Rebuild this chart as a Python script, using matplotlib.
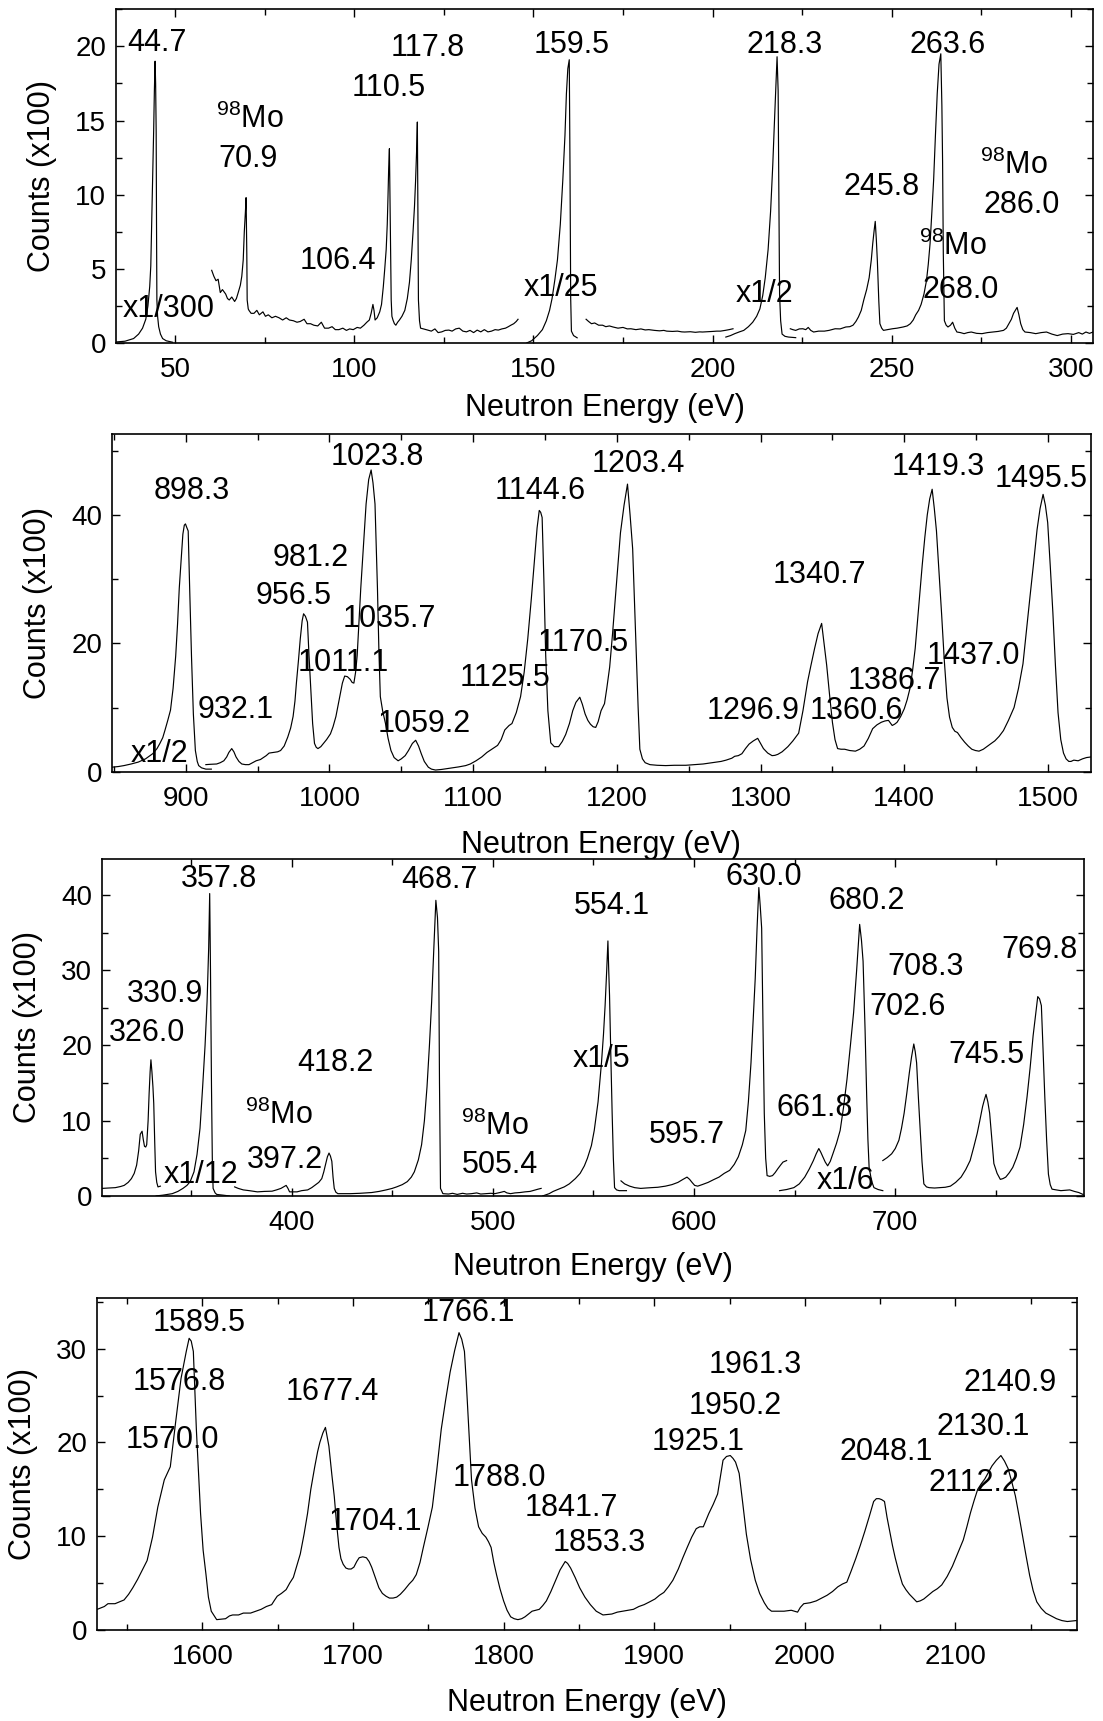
import numpy as np
import matplotlib
matplotlib.use('Agg')
import matplotlib.pyplot as plt
from matplotlib.ticker import MultipleLocator

plt.rcParams['font.family'] = ['Liberation Sans', 'DejaVu Sans']
plt.rcParams['font.size'] = 20
plt.rcParams['mathtext.fontset'] = 'custom'
plt.rcParams['mathtext.rm'] = 'Liberation Sans'
plt.rcParams['mathtext.default'] = 'regular'

# ---- spectra: (neutron energy eV, counts x100) ----
# panel 1 : 33 - 306 eV
p1_a = np.array([(33.5, 0.07), (36, 0.12), (38.4, 0.3), (39.8, 0.6), (40.9, 1.0), (41.8, 1.6), (42.4, 2.5),
                 (42.9, 3.8), (43.2, 5.2), (43.6, 9.8), (44.0, 14.3), (44.2, 17.0), (44.4, 19.0), (44.55, 17.5),
                 (44.7, 14.3), (44.8, 8.0), (44.9, 2.9), (45.1, 1.8), (45.4, 1.1), (45.9, 0.6), (46.5, 0.3),
                 (47.5, 0.15), (49.3, 0.05)])
p1_b = np.array([(60.2, 4.9), (60.8, 4.5), (61.4, 4.2), (62.0, 4.3), (62.6, 3.4), (63.2, 3.6), (64.1, 3.3),
                 (64.6, 3.0), (65.1, 2.9), (65.8, 3.1), (66.6, 2.8), (67.1, 3.0), (67.6, 3.4), (68.2, 3.9),
                 (68.6, 4.5), (69.0, 5.6), (69.3, 7.5), (69.6, 8.8), (69.8, 9.8), (70.0, 6.0), (70.1, 2.9),
                 (70.4, 2.3), (70.6, 2.2), (71.2, 2.0), (72.0, 2.0), (72.8, 2.2), (73.5, 1.9), (74.5, 2.1),
                 (75.2, 1.8), (76.0, 1.9), (77.0, 1.7), (78.0, 1.8), (79.0, 1.7), (80.0, 1.55), (81.0, 1.7),
                 (81.9, 1.55), (83.0, 1.5), (84.0, 1.4), (84.9, 1.45), (86.0, 1.6), (86.8, 1.3), (87.8, 1.3),
                 (88.7, 1.2), (89.8, 1.15), (90.8, 1.4), (91.7, 1.0), (92.8, 1.0), (93.8, 1.1), (94.7, 0.9),
                 (95.7, 0.9), (96.8, 1.0), (97.8, 0.85), (98.7, 0.95), (99.7, 0.9), (100.8, 1.05), (101.7, 1.0),
                 (102.7, 1.2), (103.5, 1.4), (104.2, 1.55), (104.7, 2.0), (105.2, 2.6), (105.5, 2.2),
                 (105.8, 1.55), (106.4, 1.7), (107.1, 2.1), (107.6, 2.6), (108.1, 3.8), (108.5, 5.0),
                 (108.9, 6.3), (109.2, 8.0), (109.4, 9.8), (109.6, 11.8), (109.8, 13.1), (110.0, 9.0),
                 (110.3, 2.9), (110.5, 1.8), (110.8, 1.55), (111.2, 1.3), (111.6, 1.2), (112.1, 1.4),
                 (112.6, 1.55), (113.3, 1.8), (114.1, 2.2), (114.8, 3.0), (115.4, 4.1), (115.9, 5.6),
                 (116.4, 7.5), (116.8, 9.2), (117.1, 10.9), (117.4, 13.0), (117.6, 14.9), (117.75, 9.0),
                 (117.9, 2.9), (118.2, 1.5), (118.5, 1.0), (119.3, 0.95), (120.5, 0.87), (121.5, 0.8),
                 (122.5, 0.95), (123.4, 0.7), (124.4, 0.75), (125.4, 0.85), (126.4, 0.87), (127.3, 0.8),
                 (128.3, 0.95), (129.3, 1.0), (130.3, 0.8), (131.3, 0.75), (132.3, 0.85), (133.3, 0.7),
                 (134.3, 0.87), (135.3, 0.75), (136.3, 0.9), (137.3, 0.75), (138.3, 0.8), (139.3, 0.9),
                 (140.2, 0.87), (141.2, 0.95), (142.2, 1.0), (143.0, 1.1), (143.7, 1.2), (144.5, 1.3),
                 (145.2, 1.45), (145.7, 1.6)])
p1_c = np.array([(148.1, 0.0), (149.5, 0.15), (151.1, 0.5), (152.5, 0.9), (153.6, 1.5), (154.5, 2.2),
                 (155.2, 3.0), (156.0, 4.3), (156.7, 5.6), (157.5, 8.0), (158.2, 11.0), (158.8, 14.0),
                 (159.2, 16.8), (159.6, 18.5), (160.0, 19.1), (160.2, 12.0), (160.4, 3.0), (160.6, 0.8),
                 (161.2, 0.5), (162.2, 0.35)])
p1_d = np.array([(164.7, 1.6), (165.4, 1.45), (166.2, 1.3), (167.1, 1.35), (168.2, 1.2), (169.3, 1.2),
                 (170.2, 1.1), (171.2, 1.15), (172.2, 1.08), (173.6, 1.0), (175.0, 1.05), (176.2, 0.95),
                 (177.2, 0.96), (178.6, 0.9), (180.0, 0.95), (181.2, 0.88), (182.2, 0.9), (183.8, 0.85),
                 (185.2, 0.82), (186.4, 0.85), (187.2, 0.8), (188.8, 0.78), (190.2, 0.8), (191.4, 0.75),
                 (192.2, 0.74), (193.8, 0.76), (195.2, 0.72), (196.4, 0.75), (197.2, 0.74), (198.6, 0.76),
                 (200.0, 0.78), (201.2, 0.8), (202.2, 0.8), (203.5, 0.85), (204.6, 0.9), (205.7, 0.96)])
p1_e = np.array([(203.7, 0.4), (205.0, 0.5), (206.2, 0.63), (207.5, 0.75), (208.7, 0.85), (210.0, 1.1),
                 (211.2, 1.4), (212.3, 1.8), (213.2, 2.3), (214.0, 3.2), (214.7, 4.4), (215.5, 6.3),
                 (216.2, 8.9), (216.8, 12.0), (217.2, 14.5), (217.7, 17.5), (218.0, 19.3), (218.3, 17.0),
                 (218.5, 10.0), (218.7, 3.3), (219.0, 1.5), (219.4, 0.6), (220.2, 0.45), (221.2, 0.4),
                 (223.2, 0.36)])
p1_f = np.array([(221.7, 0.96), (222.4, 0.9), (223.2, 0.85), (224.2, 0.95), (225.2, 0.96), (226.0, 0.9),
                 (226.7, 1.05), (227.4, 0.85), (228.2, 0.74), (229.6, 0.8), (231.2, 0.8), (232.5, 0.85),
                 (234.2, 0.96), (235.6, 0.95), (237.2, 1.08), (238.3, 1.1), (239.2, 1.2), (240.0, 1.45),
                 (240.7, 1.75), (241.5, 2.2), (242.2, 2.9), (243.0, 3.6), (243.7, 4.4), (244.3, 5.6),
                 (244.7, 6.7), (245.1, 7.6), (245.4, 8.2), (245.7, 7.0), (246.0, 5.5), (246.4, 2.8),
                 (246.7, 1.3), (247.2, 1.0), (247.7, 0.85), (248.8, 0.9), (250.2, 0.96), (251.5, 1.0),
                 (253.2, 1.08), (254.3, 1.15), (255.2, 1.3), (256.0, 1.55), (256.7, 1.9), (257.5, 2.2),
                 (258.2, 2.6), (259.0, 3.3), (259.7, 4.2), (260.2, 5.3), (260.7, 6.7), (261.2, 8.8),
                 (261.7, 11.0), (262.2, 14.0), (262.7, 16.8), (263.2, 18.8), (263.7, 19.5), (264.0, 16.0),
                 (264.2, 12.2), (264.4, 6.0), (264.7, 1.5), (265.2, 1.2), (265.7, 1.08), (266.4, 1.2),
                 (267.0, 1.4), (267.6, 1.0), (268.2, 0.74), (269.2, 0.7), (270.2, 0.63), (271.2, 0.7),
                 (272.2, 0.74), (273.7, 0.65), (275.2, 0.63), (276.7, 0.7), (278.2, 0.74), (279.7, 0.78),
                 (281.2, 0.85), (282.0, 1.0), (282.7, 1.3), (283.4, 1.6), (284.0, 2.0), (284.5, 2.2),
                 (285.0, 2.4), (285.5, 1.9), (286.0, 1.3), (286.6, 0.9), (287.2, 0.74), (288.7, 0.7),
                 (290.2, 0.63), (291.7, 0.7), (293.2, 0.74), (294.7, 0.6), (296.2, 0.5), (297.7, 0.6),
                 (299.2, 0.63), (300.7, 0.58), (302.2, 0.7), (303.2, 0.6), (304.2, 0.74), (305.2, 0.65),
                 (306.2, 0.74)])

# panel 2 : 848 - 1530 eV
p2_a = np.array([(848.5, 0.7), (853, 0.8), (857, 0.95), (862, 1.2), (867, 1.5), (872, 2.0), (877, 2.8),
                 (880, 3.6), (882, 4.4), (884, 5.3), (885.6, 6.5), (887.5, 8.0), (889.4, 9.6), (891.2, 13.0),
                 (893, 18.0), (894.3, 23.0), (895.5, 28.6), (896.8, 33.0), (898, 37.0), (899.0, 38.4),
                 (899.8, 38.6), (900.8, 38.0), (901.7, 37.5), (902.8, 28.0), (904, 18.0), (905.3, 9.0),
                 (906.7, 3.3), (908, 1.6), (909, 0.95), (911, 0.6), (914, 0.4), (917.8, 0.4)])
p2_b = np.array([(914, 1.1), (917, 1.15), (921.5, 1.2), (924, 1.4), (926.5, 1.7), (928.5, 2.3), (930, 3.0),
                 (932, 3.6), (933.5, 3.1), (935, 2.3), (937, 1.6), (939, 1.2), (941.5, 1.1), (944, 1.1),
                 (946.5, 1.4), (949, 1.7), (952, 1.9), (956, 2.5), (958, 2.9), (961, 3.0), (964, 3.1),
                 (966, 3.3), (968.5, 4.0), (971, 5.4), (973, 6.8), (974.7, 8.6), (976, 11.0), (977, 13.8),
                 (978.5, 17.5), (979.7, 20.7), (981, 23.5), (982, 24.6), (983.3, 24.2), (984.7, 23.3),
                 (985.8, 18.0), (987, 12.8), (988.3, 7.5), (989.6, 4.4), (990.8, 3.8), (992, 3.6), (994, 3.9),
                 (995.8, 4.4), (998, 5.0), (1000.7, 5.9), (1002.5, 7.0), (1004.5, 8.6), (1006, 10.3),
                 (1007.7, 12.3), (1009, 13.8), (1010.6, 14.9), (1012.5, 14.8), (1014.4, 14.4), (1015.8, 13.9),
                 (1017, 13.8), (1018.2, 15.5), (1019.3, 18.1), (1020.5, 23.0), (1021.8, 28.6), (1023.6, 35.0),
                 (1025.5, 41.7), (1027.3, 45.5), (1029, 47.0), (1030.3, 45.0), (1031.7, 41.7), (1032.6, 35.0),
                 (1033.4, 28.6), (1034.4, 19.0), (1035.4, 11.7), (1037, 9.5), (1039, 7.5), (1040.8, 5.2),
                 (1042.8, 3.3), (1045, 2.2), (1047.8, 1.7), (1050, 2.0), (1052.7, 2.5), (1055, 3.3),
                 (1057.7, 4.4), (1060, 4.9), (1062, 4.0), (1063.9, 2.8), (1066, 1.6), (1068.8, 0.7),
                 (1071, 0.4), (1073.8, 0.26), (1078, 0.35), (1081, 0.45), (1085, 0.6), (1090, 0.75),
                 (1094.8, 0.95), (1098, 1.2), (1102, 1.7), (1106, 2.3), (1109.6, 3.0), (1113, 3.5),
                 (1117, 4.1), (1119.5, 5.0), (1122, 6.5), (1125, 7.2), (1127, 7.5), (1130, 9.2), (1133, 11.7),
                 (1135.5, 15.5), (1138, 20.7), (1140.5, 27.0), (1143, 33.8), (1144.5, 38.0), (1146, 40.7),
                 (1147, 40.4), (1148, 39.6), (1149.2, 30.0), (1150.5, 18.0), (1152, 9.5), (1154, 4.5),
                 (1156.5, 3.9), (1159.5, 3.9), (1162, 4.7), (1164.4, 5.8), (1167, 7.5), (1169.3, 9.5),
                 (1171.5, 10.8), (1174.2, 11.6), (1176, 10.5), (1177.9, 9.0), (1179.8, 8.0), (1181.6, 7.4),
                 (1183.5, 7.0), (1185.3, 6.9), (1187, 7.8), (1189, 9.5), (1191.4, 10.6), (1193, 13.0),
                 (1195, 16.3), (1197, 21.5), (1198.8, 26.7), (1200.6, 32.0), (1202.5, 37.2), (1205, 41.5),
                 (1207.4, 44.8), (1209.2, 40.0), (1211, 34.7), (1212.2, 27.0), (1213.5, 19.1), (1214.8, 10.0),
                 (1216, 3.5), (1217.8, 2.0), (1219.7, 1.4), (1223, 1.1), (1228, 1.0), (1234, 0.95),
                 (1240, 1.0), (1248, 1.0), (1254, 1.1), (1260, 1.2), (1266, 1.4), (1272.5, 1.6), (1276, 1.8),
                 (1280, 2.1), (1282, 2.4), (1284.5, 2.5), (1287, 2.8), (1289.5, 3.6), (1292, 4.3),
                 (1295, 4.8), (1298, 5.2), (1300, 4.4), (1302, 3.6), (1305, 2.9), (1308, 2.5), (1310, 2.55),
                 (1312, 2.7), (1315, 3.1), (1319, 3.9), (1322.5, 4.8), (1326.5, 6.0), (1329.5, 9.5),
                 (1332.7, 14.0), (1335, 16.5), (1337.6, 19.2), (1340, 21.5), (1342.5, 23.1), (1344.2, 20.0),
                 (1346, 16.6), (1348, 12.0), (1350, 7.7), (1351.8, 5.0), (1353.6, 3.6), (1356, 3.5),
                 (1358.5, 3.5), (1362, 3.3), (1366, 3.2), (1369, 3.5), (1372, 4.0), (1375, 5.2), (1378, 6.7),
                 (1381, 7.3), (1384, 7.7), (1386.5, 7.9), (1389, 8.0), (1391.6, 7.2), (1393.3, 7.4),
                 (1395, 7.7), (1397.5, 8.6), (1400, 9.8), (1402, 11.2), (1404, 13.0), (1405.8, 15.8),
                 (1407.6, 19.2), (1410, 25.5), (1412.5, 32.2), (1414.3, 36.5), (1416, 40.0), (1417.7, 42.5),
                 (1419.4, 44.0), (1420.9, 41.0), (1422.4, 37.5), (1424.2, 31.0), (1426, 24.5), (1427.8, 17.5),
                 (1429.7, 11.5), (1431.5, 8.5), (1433.4, 6.9), (1435.2, 6.3), (1437, 6.1), (1439.5, 5.3),
                 (1442, 4.6), (1444.5, 4.0), (1447, 3.5), (1449.5, 3.3), (1452, 3.2), (1455, 3.5), (1458, 4.0),
                 (1460.5, 4.4), (1463, 4.8), (1466, 5.5), (1469, 6.4), (1472.5, 8.0), (1476.4, 10.0),
                 (1479.5, 13.0), (1482.6, 16.8), (1485, 22.0), (1487.5, 27.3), (1490, 32.5), (1492.4, 37.7),
                 (1494.5, 41.0), (1496.6, 43.2), (1498.2, 41.5), (1499.8, 38.8), (1501.6, 32.0),
                 (1503.4, 24.8), (1505.2, 16.5), (1507, 9.2), (1508.9, 5.0), (1510.8, 2.9), (1512.6, 2.0),
                 (1514.5, 1.6), (1516, 1.6), (1518, 1.8), (1521, 1.7), (1524, 2.0), (1526.8, 2.2), (1530, 2.3)])

# panel 3 : 306 - 794 eV
p3_a = np.array([(305.8, 1.0), (309, 1.05), (312.4, 1.1), (315, 1.25), (316.8, 1.4), (318.8, 1.8), (320.4, 2.3),
                 (321.8, 3.0), (323, 4.1), (324, 6.0), (324.8, 8.2), (325.7, 8.6), (326.3, 7.5), (326.9, 6.6),
                 (327.5, 6.5), (328, 6.8), (328.7, 10.0), (329.2, 13.6), (329.7, 16.5), (330.1, 18.1),
                 (330.6, 16.5), (331.1, 14.5), (331.5, 12.3), (332, 7.0), (332.4, 3.2), (333, 1.8),
                 (333.6, 1.2), (334.8, 1.3)])
p3_b = np.array([(332.7, 0.0), (336, 0.1), (340.7, 0.3), (343.5, 0.6), (346, 1.0), (348, 1.4), (349.6, 1.9),
                 (351.5, 3.2), (353, 5.5), (354.5, 9.0), (355.8, 14.5), (357, 20.0), (358, 25.8), (358.8, 33.0),
                 (359.3, 40.2), (359.7, 30.0), (360.2, 14.5), (360.6, 5.0), (361, 1.0), (362, 0.4),
                 (362.8, 0.2), (366, 0.1), (369, 0.0)])
p3_c = np.array([(371.7, 1.2), (373.5, 1.0), (376, 0.8), (379, 0.7), (383, 0.54), (386.5, 0.6), (390.3, 0.63),
                 (392.5, 0.8), (394.7, 1.0), (396, 1.2), (397.3, 1.4), (398.2, 1.0), (399, 0.54), (402.7, 0.54),
                 (405, 0.7), (408, 0.8), (410, 1.1), (411.5, 1.4), (413.5, 1.8), (415, 2.3), (416, 3.2),
                 (416.8, 4.1), (417.8, 5.2), (418.6, 5.7), (419.3, 5.3), (420, 4.6), (420.6, 2.5), (421.2, 1.0),
                 (422, 0.5), (423, 0.3), (426, 0.3), (429.2, 0.3), (434, 0.35), (439.8, 0.45), (443.5, 0.6),
                 (447, 0.8), (450, 1.0), (452.2, 1.2), (455, 1.5), (457.5, 1.9), (459.5, 2.5), (461, 3.2),
                 (463, 4.8), (464.6, 6.8), (466, 10.0), (467.3, 14.5), (468.5, 20.0), (469.6, 25.8),
                 (470.7, 33.0), (471.7, 39.3), (472.5, 37.0), (473.1, 32.5), (473.5, 15.0), (474, 1.0),
                 (475.2, 0.3), (478, 0.25), (480, 0.35), (482.3, 0.2), (485, 0.35), (487, 0.25), (489.4, 0.3),
                 (492, 0.4), (494, 0.25), (496.5, 0.3), (499, 0.35), (501, 0.3), (503.5, 0.45), (505.7, 0.6),
                 (507, 0.4), (508.8, 0.3), (511, 0.4), (513.5, 0.45), (516, 0.54), (518.5, 0.6), (521.2, 0.8),
                 (522.5, 0.9), (524, 1.0)])
p3_d = np.array([(524.8, 0.0), (528, 0.3), (530, 0.6), (532.7, 0.9), (535.5, 1.2), (538, 1.6), (541, 2.3),
                 (543.4, 3.0), (545.5, 4.0), (547, 5.0), (549, 6.7), (550.4, 8.7), (552.3, 12.5), (554, 17.7),
                 (555, 21.5), (555.8, 25.3), (556.6, 30.0), (557.2, 33.9), (557.6, 30.0), (558, 26.7),
                 (558.7, 18.0), (559.3, 11.0), (559.9, 5.0), (560.5, 1.1), (561.5, 0.8), (562.8, 0.7),
                 (566.4, 0.7)])
p3_e = np.array([(563.7, 2.0), (565.5, 1.6), (568, 1.3), (570.5, 1.1), (573.5, 1.0), (576, 1.05), (578.8, 1.1),
                 (582, 1.15), (585.8, 1.3), (589, 1.5), (592, 1.8), (594.5, 2.2), (596.5, 2.5), (597.8, 2.2),
                 (599, 1.8), (600.3, 1.4), (601.8, 1.3), (604, 1.5), (607, 1.8), (610, 2.2), (612.4, 2.5),
                 (615, 3.0), (617.7, 3.4), (620, 4.2), (622, 5.2), (624, 6.8), (625.7, 8.7), (627, 12.5),
                 (628.3, 17.7), (629.4, 23.5), (630.4, 28.9), (631.3, 35.5), (632.2, 41.0), (632.9, 38.5),
                 (633.6, 35.6), (634.3, 22.0), (634.9, 11.0), (635.6, 5.0), (636.3, 2.7), (637.6, 2.6),
                 (639, 2.7), (640.3, 3.1), (641.6, 3.6), (643, 4.1), (644.2, 4.5), (646, 4.7)])
p3_f = np.array([(642.5, 0.7), (646, 0.85), (649.6, 1.1), (652.3, 1.6), (655, 2.5), (657.3, 3.6), (659.3, 4.7),
                 (660.7, 5.6), (662, 6.3), (663, 5.8), (664, 5.2), (665.2, 4.5), (666.4, 4.0), (667.7, 4.6),
                 (669, 5.6), (670.8, 7.0), (672.6, 8.7), (674.3, 11.8), (676, 15.5), (677.7, 20.0),
                 (679.3, 24.4), (680.8, 30.0), (682.3, 36.1), (683.2, 34.0), (684, 31.2), (685, 22.0),
                 (685.8, 13.2), (686.4, 7.5), (687, 3.8), (688.2, 2.0), (689.4, 1.1), (691.5, 0.85),
                 (693.8, 0.7)])
p3_g = np.array([(693.8, 4.7), (696, 5.1), (698.2, 5.6), (700, 6.3), (701.8, 7.4), (703.1, 9.0), (704.4, 11.0),
                 (705.7, 13.6), (707, 16.4), (708.1, 18.5), (709.2, 20.2), (709.9, 19.2), (710.6, 17.7),
                 (711.5, 13.0), (712.4, 8.7), (713.3, 4.5), (714.2, 1.6), (715.5, 1.2), (716.8, 1.1),
                 (719.5, 1.05), (722.1, 1.1), (724.8, 1.15), (727.4, 1.3), (730, 1.8), (732.7, 2.5),
                 (735, 3.5), (737.2, 4.7), (739, 6.5), (740.7, 8.3), (742, 10.0), (743.4, 11.9), (744.3, 12.8),
                 (745.1, 13.5), (746, 12.5), (746.9, 11.0), (748, 7.5), (749, 4.3), (750.6, 3.0), (752.2, 2.2),
                 (753.5, 2.3), (754.9, 2.5), (756.7, 3.1), (758.4, 3.8), (760.2, 5.0), (762, 6.5), (763.8, 9.5),
                 (765.5, 13.2), (767, 17.0), (768.5, 21.3), (769.7, 24.0), (770.8, 26.5), (771.7, 26.2),
                 (772.6, 25.3), (773.5, 19.0), (774.3, 13.2), (775.2, 7.5), (776.1, 2.9), (777, 1.5),
                 (777.9, 0.9), (780, 0.8), (782.3, 0.7), (784.5, 0.75), (786.7, 0.8), (789, 0.6),
                 (791.2, 0.45), (793.3, 0.2)])

# panel 4 : 1530 - 2181 eV
p4_a = np.array([(1530.2, 2.2), (1534.9, 2.5), (1537.3, 2.8), (1542, 2.8), (1548, 3.2), (1551, 3.8),
                 (1553.8, 4.5), (1557, 5.4), (1559.8, 6.3), (1563.3, 7.4), (1566.9, 9.9), (1570.4, 13.1),
                 (1574.7, 16.0), (1578.7, 17.4), (1582.2, 22.1), (1585.8, 26.8), (1589.3, 29.7), (1591.2, 31.1),
                 (1592.6, 30.8), (1594, 29.7), (1596, 21.4), (1598.8, 12.4), (1600.5, 8.5), (1602.4, 5.9),
                 (1604, 3.5), (1605.9, 2.0), (1609.5, 1.1), (1612.5, 1.15), (1615.4, 1.2), (1618, 1.5),
                 (1620.1, 1.6), (1624, 1.6), (1627.2, 1.8), (1632, 1.8), (1635.5, 2.0), (1639, 2.2),
                 (1642.5, 2.5), (1646, 2.7), (1648, 3.2), (1649.7, 3.6), (1652.5, 3.9), (1655.6, 4.3),
                 (1658, 5.0), (1660.4, 5.6), (1663, 7.0), (1665, 8.1), (1667.5, 10.2), (1669.8, 12.4),
                 (1672, 15.0), (1674.6, 17.4), (1676.5, 19.0), (1678, 20.0), (1680, 21.0), (1681.7, 21.6),
                 (1683, 20.5), (1684, 19.6), (1686, 16.5), (1687.6, 14.2), (1689, 11.5), (1690.7, 8.8),
                 (1692, 7.6), (1693.5, 7.0), (1695.3, 6.6), (1697, 6.5), (1698.8, 6.5), (1700.6, 6.7),
                 (1702.5, 7.3), (1704.1, 7.7), (1706.5, 7.8), (1708.9, 7.7), (1710.7, 7.3), (1712.4, 6.7),
                 (1714.8, 5.6), (1717.2, 4.5), (1719.5, 3.9), (1721.9, 3.6), (1724.2, 3.4), (1726.6, 3.4),
                 (1729, 3.5), (1731.4, 3.8), (1734.3, 4.3), (1737.3, 4.9), (1739.7, 5.3), (1742, 5.9),
                 (1744.5, 7.2), (1746.7, 8.8), (1749.7, 10.9), (1752.7, 13.1), (1755.6, 17.0), (1758.6, 21.4),
                 (1761.5, 24.5), (1764.5, 27.5), (1767.5, 29.8), (1770.4, 31.7), (1772.2, 31.0), (1774, 29.7),
                 (1775.2, 26.5), (1776.3, 23.2), (1777.5, 19.5), (1778.7, 16.0), (1781, 13.0), (1783.4, 11.0),
                 (1785.8, 10.3), (1788.2, 9.9), (1790, 9.4), (1791.7, 8.8), (1793.5, 7.2), (1795.3, 5.9),
                 (1797.6, 4.4), (1800, 3.1), (1802.3, 2.1), (1804.7, 1.4), (1807, 1.2), (1809.5, 1.1),
                 (1812, 1.2), (1814.2, 1.4), (1816.5, 1.7), (1818.9, 2.0), (1821.3, 2.1), (1823.7, 2.2),
                 (1826, 2.6), (1828.4, 3.1), (1831.4, 4.1), (1834.3, 5.2), (1837.5, 6.4), (1840.9, 7.3),
                 (1842.5, 7.1), (1844.5, 6.6), (1847.5, 5.6), (1850.5, 4.5), (1854, 3.5), (1857.6, 2.7),
                 (1861.5, 2.0), (1866, 1.6), (1869, 1.65), (1871.9, 1.7), (1875.5, 1.9), (1879, 2.0),
                 (1882.5, 2.1), (1886.2, 2.2), (1889.8, 2.5), (1893.3, 2.7), (1897, 3.0), (1900.5, 3.3),
                 (1903.5, 3.7), (1906.4, 4.0), (1909.4, 4.6), (1912.4, 5.3), (1914.2, 5.9), (1916, 6.5),
                 (1919, 7.7), (1921.9, 8.8), (1924.9, 9.9), (1927.9, 10.8), (1930.2, 11.0), (1932.6, 11.0),
                 (1934.4, 11.7), (1936.2, 12.4), (1939.2, 13.4), (1942.1, 14.5), (1943.9, 16.3), (1945.7, 18.1),
                 (1948, 18.5), (1950.5, 18.6), (1952.3, 18.3), (1954, 17.9), (1955.2, 17.3), (1956.4, 16.7),
                 (1958.8, 13.5), (1961.2, 10.2), (1964, 7.5), (1967.1, 5.3), (1970, 3.9), (1973.1, 2.9),
                 (1975.5, 2.3), (1977.9, 2.0), (1982, 2.0), (1986.2, 2.0), (1991, 2.1), (1995.2, 1.9),
                 (1997, 2.4), (1999.3, 2.8), (2003.5, 2.9), (2007.6, 3.1), (2011.2, 3.4), (2014.8, 3.7),
                 (2018.4, 4.1), (2021.9, 4.6), (2025, 4.9), (2027.9, 5.1), (2030.8, 6.3), (2033.8, 7.6),
                 (2036.8, 9.0), (2039.8, 10.5), (2042.8, 12.1), (2045.7, 13.7), (2047.5, 14.0), (2049.3, 14.0),
                 (2051, 13.9), (2052.9, 13.7), (2054.6, 12.0), (2056.4, 10.5), (2058.2, 9.0), (2060, 7.7),
                 (2062.4, 6.2), (2064.8, 4.9), (2067.1, 4.3), (2069.5, 3.8), (2071.9, 3.4), (2074.3, 3.0),
                 (2076.6, 3.1), (2079, 3.3), (2082, 3.7), (2085, 4.1), (2088, 4.4), (2090.9, 4.8),
                 (2094.5, 5.7), (2098, 6.8), (2101.6, 8.2), (2105.2, 9.6), (2107.6, 11.0), (2110, 12.5),
                 (2112.4, 13.8), (2114.8, 15.0), (2117.2, 15.6), (2119.5, 16.1), (2121.9, 16.8), (2124.3, 17.5),
                 (2127.2, 18.1), (2130.2, 18.6), (2132.6, 18.0), (2135, 17.2), (2137.4, 15.8), (2139.8, 14.3),
                 (2142.2, 12.2), (2144.5, 10.1), (2146.9, 7.9), (2149.3, 5.8), (2151.6, 4.2), (2154, 3.0),
                 (2157, 2.3), (2160, 1.8), (2163.5, 1.5), (2167.1, 1.2), (2170.7, 1.0), (2174.3, 0.9),
                 (2177.3, 0.95), (2180.2, 1.0)])

MO = r'$^{98}$Mo'

# resonance labels: text, energy, height
p1_labels = [('44.7', 44.9, 20.2), (MO, 71.0, 15.1), ('70.9', 70.3, 12.4), ('117.8', 120.5, 19.9),
             ('110.5', 109.6, 17.2), ('106.4', 95.3, 5.5), ('x1/300', 48.1, 2.3), ('159.5', 160.7, 20.1),
             ('218.3', 220.2, 20.1), ('263.6', 265.7, 20.1), ('245.8', 247.2, 10.5), (MO, 284.2, 12.0),
             ('286.0', 286.2, 9.3), (MO, 267.2, 6.5), ('268.0', 269.2, 3.6), ('x1/25', 157.6, 3.7),
             ('x1/2', 214.4, 3.3)]
p2_labels = [('898.3', 904, 43.8), ('981.2', 987, 33.3), ('956.5', 974.8, 27.3), ('1023.8', 1033, 49.1),
             ('1035.7', 1041.6, 23.8), ('1011.1', 1009.4, 17.0), ('932.1', 935, 9.6), ('1059.2', 1066, 7.5),
             ('1125.5', 1122, 14.6), ('1144.6', 1146.5, 43.8), ('1203.4', 1214.7, 47.9), ('1170.5', 1176.7, 20.0),
             ('1340.7', 1341, 30.7), ('1296.9', 1294.6, 9.4), ('1360.6', 1367, 9.4), ('1386.7', 1393, 14.2),
             ('1437.0', 1448, 18.0), ('1419.3', 1423.6, 47.4), ('1495.5', 1495, 45.6), ('x1/2', 882, 2.8)]
p3_labels = [('357.8', 363.7, 42.2), ('330.9', 337.2, 26.9), ('326.0', 328.3, 21.7), ('418.2', 422, 17.7),
             (MO, 393.8, 10.7), ('397.2', 396.5, 4.8), ('x1/12', 354.9, 2.8), ('468.7', 473.5, 42.0),
             (MO, 500.9, 9.3), ('505.4', 503.5, 4.1), ('554.1', 559.3, 38.6), ('x1/5', 554, 18.2),
             ('630.0', 634.5, 42.4), ('595.7', 596.5, 8.1), ('680.2', 685.8, 39.2), ('661.8', 660.2, 11.7),
             ('x1/6', 675.2, 2.0), ('708.3', 715, 30.5), ('702.6', 706.2, 25.1), ('745.5', 745.1, 18.8),
             ('769.8', 771.7, 32.7)]
p4_labels = [('1589.5', 1597.6, 32.7), ('1576.8', 1584.6, 26.4), ('1570.0', 1579.9, 20.3),
             ('1677.4', 1686.4, 25.4), ('1766.1', 1776.3, 33.8), ('1704.1', 1714.8, 11.5),
             ('1788.0', 1797.5, 16.2), ('1841.7', 1845, 13.0), ('1853.3', 1863.6, 9.3),
             ('1925.1', 1929, 20.0), ('1950.2', 1954, 23.9), ('1961.3', 1967, 28.3),
             ('2048.1', 2054, 19.0), ('2140.9', 2136.2, 26.3), ('2130.1', 2118.3, 21.6),
             ('2112.2', 2112.4, 15.7)]

panels = [
    dict(rect=[0.1052, 0.8007, 0.8858, 0.1939], segs=[p1_a, p1_b, p1_c, p1_d, p1_e, p1_f],
         labels=p1_labels, xlim=(33.5, 306.2), ylim=(0, 22.5), xt=(50, 25), yt=(5, 2.5), xlab=-0.15),
    dict(rect=[0.1013, 0.5516, 0.8879, 0.1962], segs=[p2_a, p2_b],
         labels=p2_labels, xlim=(848.5, 1530), ylim=(0, 52.6), xt=(100, 50), yt=(20, 10), xlab=-0.172),
    dict(rect=[0.0925, 0.3051, 0.8903, 0.1958], segs=[p3_a, p3_b, p3_c, p3_d, p3_e, p3_f, p3_g],
         labels=p3_labels, xlim=(305.8, 793.8), ylim=(0, 44.8), xt=(100, 50), yt=(10, 5), xlab=-0.165),
    dict(rect=[0.0879, 0.0529, 0.8885, 0.1929], segs=[p4_a],
         labels=p4_labels, xlim=(1530, 2180.7), ylim=(0, 35.4), xt=(100, 50), yt=(10, 5), xlab=-0.175),
]

fig = plt.figure(figsize=(11.03, 17.21), dpi=100)

for p in panels:
    ax = fig.add_axes(p['rect'])
    for seg in p['segs']:
        ax.plot(seg[:, 0], seg[:, 1], color='black', lw=0.85)
    for txt, x, y in p['labels']:
        ax.text(x, y, txt, ha='center', va='center', fontsize=22)
    ax.set_xlim(p['xlim'])
    ax.set_ylim(p['ylim'])
    ax.xaxis.set_major_locator(MultipleLocator(p['xt'][0]))
    ax.xaxis.set_minor_locator(MultipleLocator(p['xt'][1]))
    ax.yaxis.set_major_locator(MultipleLocator(p['yt'][0]))
    ax.yaxis.set_minor_locator(MultipleLocator(p['yt'][1]))
    ax.tick_params(which='both', direction='in', top=True, right=True, width=1.0, labelsize=20)
    ax.tick_params(which='major', length=6)
    ax.tick_params(which='minor', length=4.5)
    ax.tick_params(axis='x', which='major', pad=10)
    ax.tick_params(axis='y', which='major', pad=7)
    for s in ax.spines.values():
        s.set_linewidth(1.2)
    ax.set_xlabel('Neutron Energy (eV)', fontsize=22)
    ax.set_ylabel('Counts (x100)', fontsize=22)
    ax.xaxis.set_label_coords(0.5, p['xlab'])
    ax.yaxis.set_label_coords(-0.06, 0.5)

fig.savefig('out.png', dpi=100)
